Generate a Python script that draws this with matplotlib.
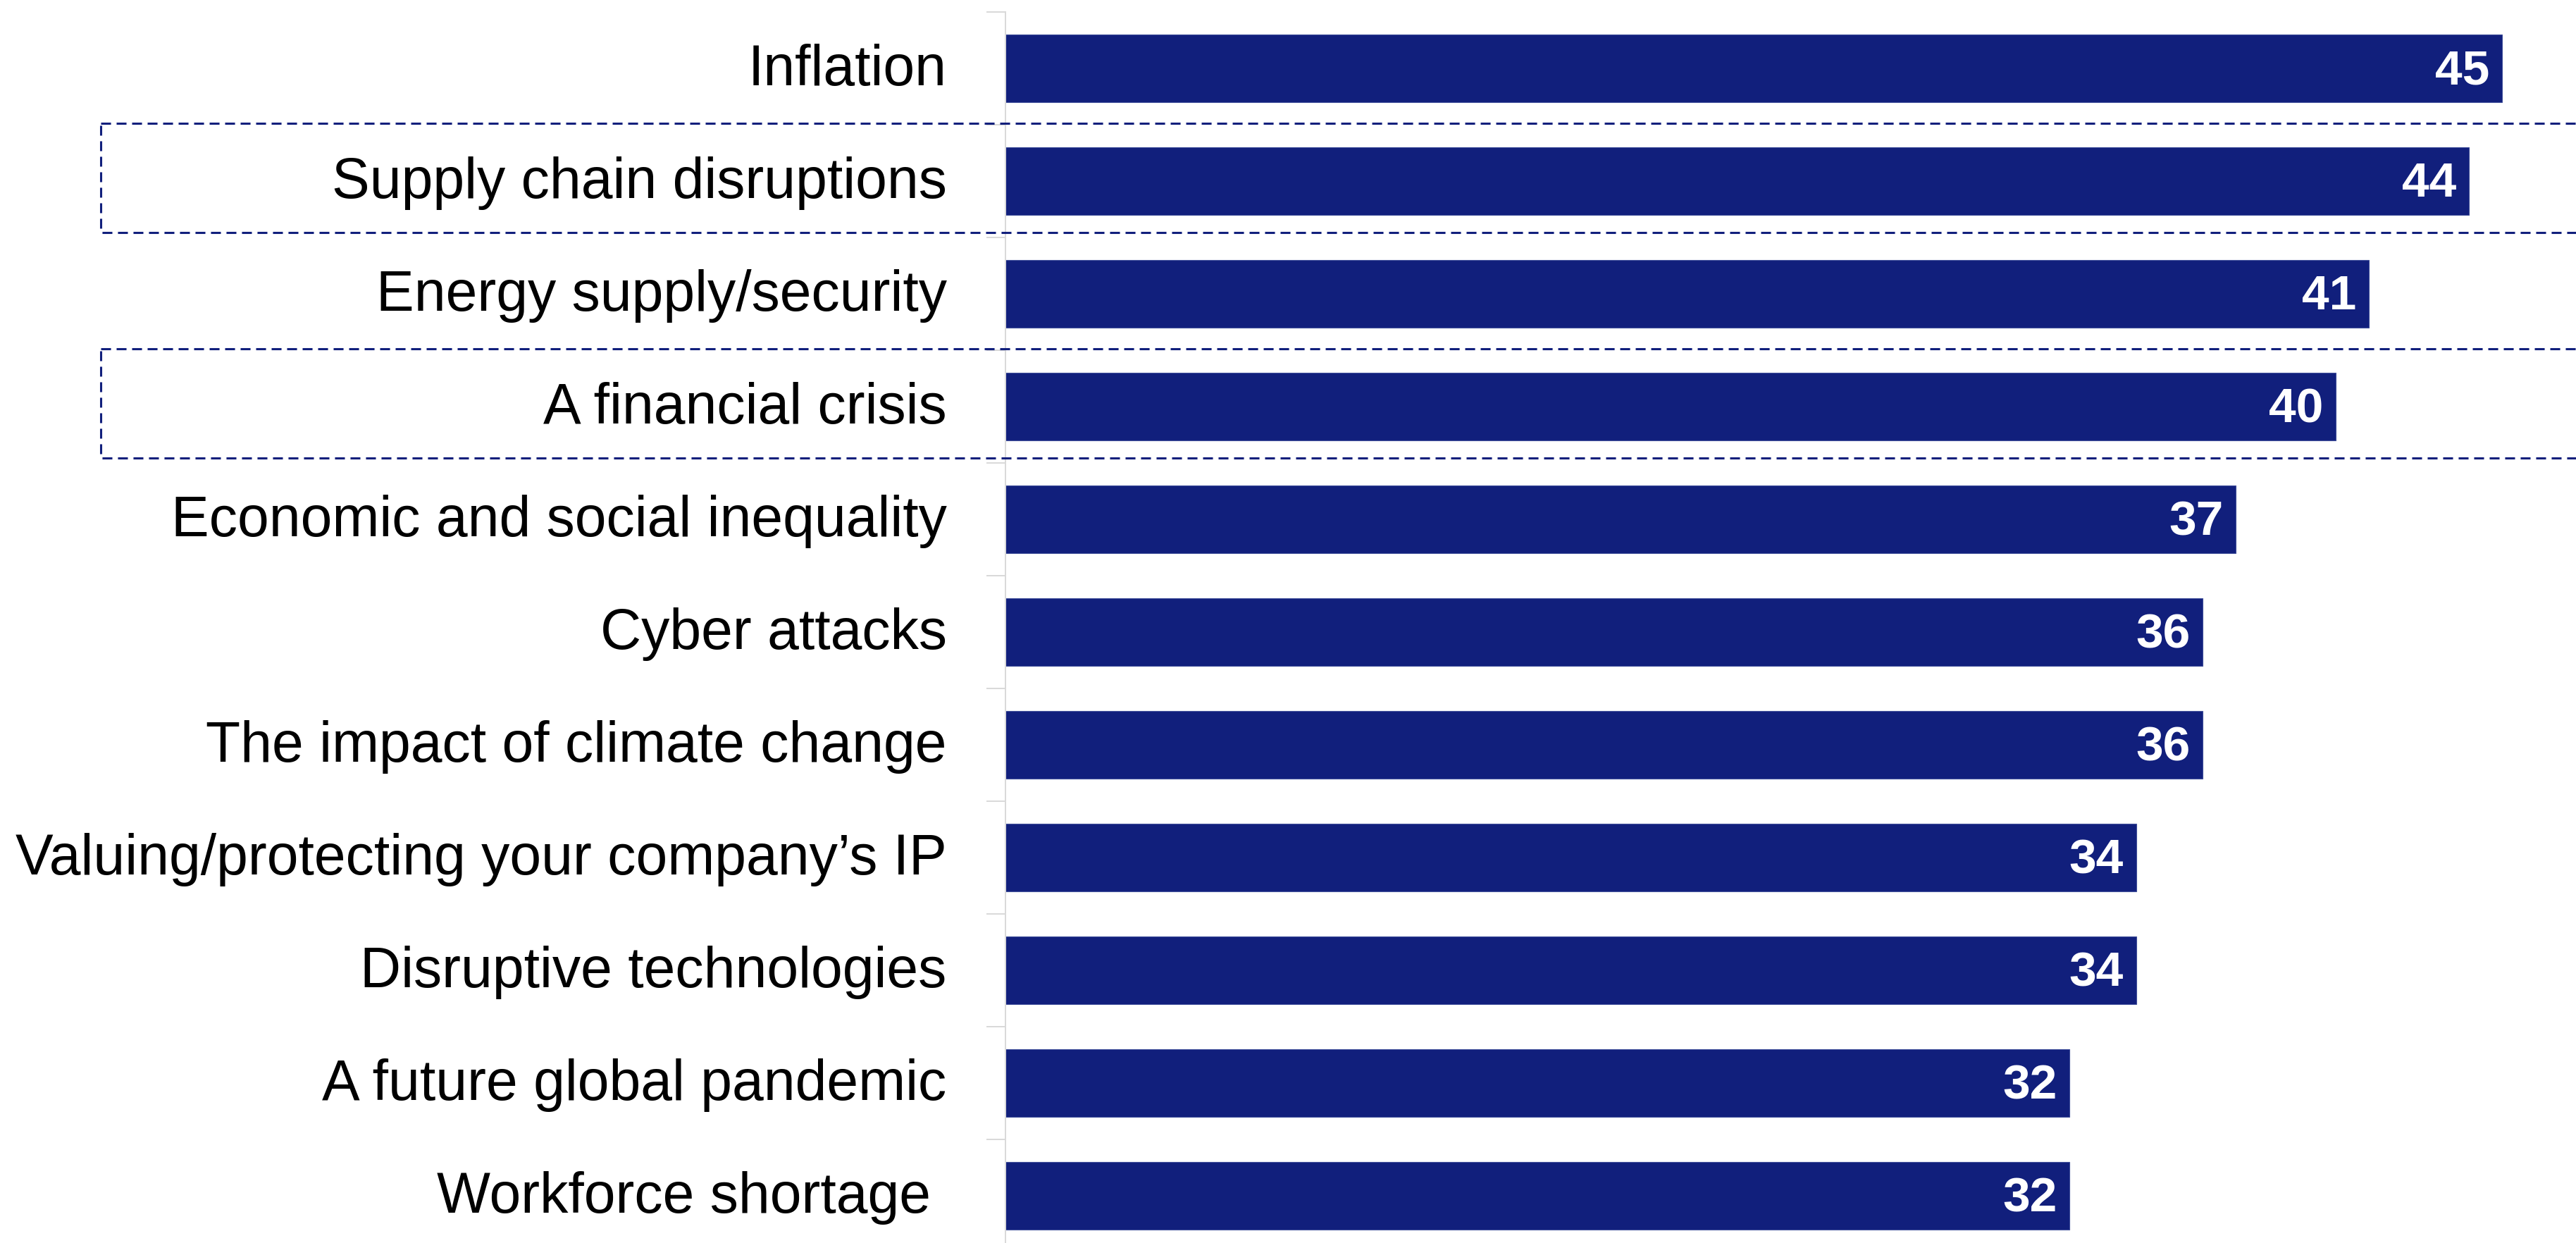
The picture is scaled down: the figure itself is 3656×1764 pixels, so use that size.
import numpy as np
import matplotlib.pyplot as plt
from matplotlib.patches import Rectangle
from matplotlib.transforms import blended_transform_factory, ScaledTranslation

categories = [
    "Inflation",
    "Supply chain disruptions",
    "Energy supply/security",
    "A financial crisis",
    "Economic and social inequality",
    "Cyber attacks",
    "The impact of climate change",
    "Valuing/protecting your company\u2019s IP",
    "Disruptive technologies",
    "A future global pandemic",
    "Workforce shortage ",
]
values = [45, 44, 41, 40, 37, 36, 36, 34, 34, 32, 32]
highlighted = ["Supply chain disruptions", "A financial crisis"]

bar_color = "#111F7C"
axis_grey = "#D9D9D9"

plt.rcParams["font.family"] = ["Liberation Sans", "DejaVu Sans"]

W, H, DPI = 3656, 1765, 200
fig = plt.figure(figsize=(W / DPI, H / DPI), dpi=DPI)

# axes: left spine at x=1427px, rows 160px tall starting 18px from the top
left = 1427 / W
top = 1 - 18 / H
bottom = 1 - (18 + 160 * len(categories)) / H
ax = fig.add_axes([left, bottom, 1 - left, top - bottom])

y = np.arange(len(categories))
bars = ax.barh(y, values, height=0.6, color=bar_color, edgecolor="#3F4E9A",
               linewidth=0.4)

for b, v in zip(bars, values):
    ax.text(b.get_width() - 0.38, b.get_y() + b.get_height() / 2 + 0.02, str(v),
            ha="right", va="center", color="white", fontsize=25,
            fontweight="bold")

ax.set_xlim(0, (W - 1427) / 47.2)
ax.set_ylim(len(categories) - 0.5, -0.5)
ax.set_yticks(y)
ax.set_yticklabels(categories, fontsize=29)
ax.set_yticks(np.arange(len(categories) + 1) - 0.5, minor=True)
ax.tick_params(axis="y", which="major", length=0, pad=30)
ax.tick_params(axis="y", which="minor", length=9.7, width=0.72,
               color=axis_grey)
ax.set_xticks([])

# category names sit a little above the bar centre
lift = ScaledTranslation(0, 6 / DPI, fig.dpi_scale_trans)
for lbl in ax.get_yticklabels():
    lbl.set_transform(lbl.get_transform() + lift)

for s in ["top", "right", "bottom"]:
    ax.spines[s].set_visible(False)
ax.spines["left"].set_color(axis_grey)
ax.spines["left"].set_linewidth(0.72)

# dashed frames round the highlighted rows, label to far right
trans = blended_transform_factory(fig.transFigure, ax.transData)
for name in highlighted:
    i = categories.index(name)
    rect = Rectangle((143 / W, i - 0.03 - 0.485), 1.2, 0.97, transform=trans,
                     fill=False, edgecolor=bar_color, linewidth=1.1,
                     linestyle=(0, (4.6, 2.6)), clip_on=False, zorder=3)
    fig.add_artist(rect)

fig.savefig("out.png", dpi=DPI, facecolor="white")
